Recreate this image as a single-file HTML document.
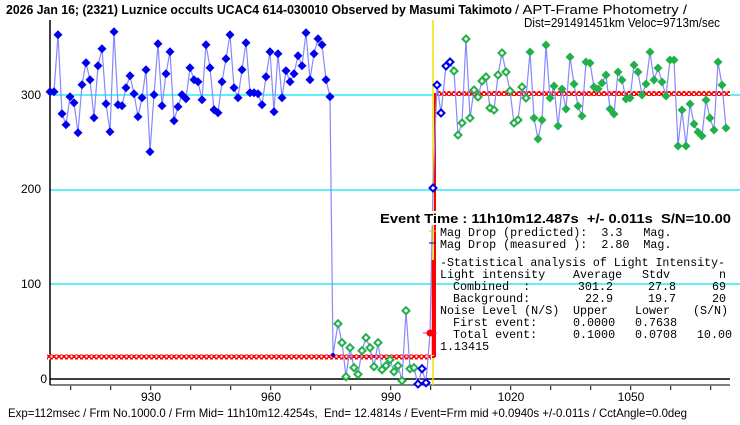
<!DOCTYPE html>
<html><head><meta charset="utf-8"><style>
html,body{margin:0;padding:0;background:#fff;width:740px;height:425px;overflow:hidden}
svg{display:block}
text{white-space:pre}
.m{font-family:"Liberation Mono",monospace;font-size:11.7px;fill:#000}
.s{font-family:"Liberation Sans",sans-serif;font-size:12px;fill:#000}
</style></head><body>
<svg width="740" height="425" xmlns="http://www.w3.org/2000/svg" xml:space="preserve">
<defs>
<pattern id="chk" width="5" height="5" patternUnits="userSpaceOnUse"><rect width="5" height="5" fill="#f00"/><rect x="0.5" y="0.5" width="2" height="2" fill="#fff"/><rect x="3" y="3" width="2" height="2" fill="#fff"/></pattern>
<path id="bd" d="M0,-4.5 L4.5,0 L0,4.5 L-4.5,0Z" fill="#0000ee"/>
<path id="gd" d="M0,-4.5 L4.5,0 L0,4.5 L-4.5,0Z" fill="#22b04a"/>
<path id="go" d="M0,-3.5 L3.5,0 L0,3.5 L-3.5,0Z" fill="#fff" stroke="#22b04a" stroke-width="2"/>
<path id="bo" d="M0,-3.5 L3.5,0 L0,3.5 L-3.5,0Z" fill="#fff" stroke="#0000ee" stroke-width="2"/>
</defs>
<text x="6" y="14" style="font-family:'Liberation Sans',sans-serif;font-size:13px;font-weight:bold" textLength="506" lengthAdjust="spacingAndGlyphs">2026 Jan 16; (2321) Luznice occults UCAC4 614-030010 Observed by Masumi Takimoto</text>
<text x="515" y="14" class="s" style="font-size:13px" textLength="172" lengthAdjust="spacingAndGlyphs">/ APT-Frame Photometry /</text>
<text x="524" y="27" class="s" style="font-size:13px" textLength="196" lengthAdjust="spacingAndGlyphs">Dist=291491451km Veloc=9713m/sec</text>
<line x1="50" y1="95" x2="740" y2="95" stroke="#00e8f0" stroke-width="1.2"/>
<line x1="50" y1="190" x2="740" y2="190" stroke="#00e8f0" stroke-width="1.2"/>
<line x1="50" y1="284" x2="740" y2="284" stroke="#00e8f0" stroke-width="1.2"/>
<line x1="50" y1="379" x2="730" y2="379" stroke="#000" stroke-width="1.5"/>
<line x1="50" y1="20" x2="50" y2="385" stroke="#000" stroke-width="1.5"/>
<line x1="50" y1="385" x2="730" y2="385" stroke="#000" stroke-width="1"/>
<g stroke="#000">
<line x1="70.7" y1="386" x2="70.7" y2="390"/><line x1="110.7" y1="386" x2="110.7" y2="390"/><line x1="150.7" y1="386" x2="150.7" y2="390"/><line x1="190.7" y1="386" x2="190.7" y2="390"/><line x1="230.7" y1="386" x2="230.7" y2="390"/><line x1="270.7" y1="386" x2="270.7" y2="390"/><line x1="310.7" y1="386" x2="310.7" y2="390"/><line x1="350.7" y1="386" x2="350.7" y2="390"/><line x1="390.7" y1="386" x2="390.7" y2="390"/><line x1="430.7" y1="386" x2="430.7" y2="390"/><line x1="470.7" y1="386" x2="470.7" y2="390"/><line x1="510.7" y1="386" x2="510.7" y2="390"/><line x1="550.7" y1="386" x2="550.7" y2="390"/><line x1="590.7" y1="386" x2="590.7" y2="390"/><line x1="630.7" y1="386" x2="630.7" y2="390"/><line x1="670.7" y1="386" x2="670.7" y2="390"/><line x1="710.7" y1="386" x2="710.7" y2="390"/>
</g>
<g class="s" text-anchor="middle"><text x="151" y="401">930</text><text x="271" y="401">960</text><text x="391" y="401">990</text><text x="511" y="401">1020</text><text x="631" y="401">1050</text></g>
<g class="s" text-anchor="end"><text x="47" y="383">0</text><text x="41" y="288">100</text><text x="41" y="193">200</text><text x="41" y="99">300</text></g>
<rect x="47" y="354.5" width="384" height="5" fill="url(#chk)"/>
<rect x="437" y="91" width="293" height="5" fill="url(#chk)"/>
<line x1="433" y1="20" x2="433" y2="385" stroke="#f0e000" stroke-width="1.5"/>
<line x1="435" y1="93" x2="435" y2="357" stroke="#f00" stroke-width="2"/>
<line x1="432" y1="357" x2="435" y2="357" stroke="#f00" stroke-width="2"/>
<polyline fill="none" stroke="#8888ff" stroke-width="1.2" points="50,91.7 54,91.7 58,34.7 62,113.7 66,124.7 70,96.7 74,102.7 78,132.7 82,84.7 86,62.7 90,79.7 94,117.7 98,65.7 102,48.7 106,103.7 110,131.7 114,31.7 118,104.7 122,105.7 126,87.7 130,75.7 134,93.7 138,116.7 142,97.7 146,69.7 150,151.7 154,94.7 158,43.7 162,105.7 166,73.7 170,51.7 174,120.7 178,106.7 182,94.7 186,98.7 190,67.7 194,79.7 198,81.7 202,99.7 206,44.7 210,67.7 214,109.7 218,112.7 222,81.7 226,58.7 230,34.7 234,87.7 238,97.7 242,69.7 246,42.7 250,92.7 254,92.7 258,93.7 262,104.7 266,76.7 270,51.7 274,111.7 278,53.7 282,97.7 286,70.7 290,81.7 294,73.7 298,55.7 302,65.7 306,32.7 310,79.7 314,53.7 318,38.7 322,44.7 326,79.7 330,96.7 333,355 338,323.7 342,342.7 346,376.7 350,347.7 354,367.7 358,374.3 362,350.7 366,337.7 370,347.7 374,366.7 378,342.7 382,369.7 386,365.7 390,359.7 394,371.7 398,365.7 402,380.7 406,310.7 410,368.7 414,367.7 418,384.7 422,368.7 426,382.7 430,333 433,188 437,85 441,113 446,66 450,62 454,71 458,135 462,123 466,39 470,118 474,90 478,97 482,81 486,77 490,108 494,110 498,75 502,53 506,72 510,91 514,123 518,120 522,87 526,98 530,52 534,118 538,139 542,120 546,45 550,98 554,86 558,126 562,89 566,109 570,57 574,84 578,106 582,116 586,62 590,63 594,87 598,89 602,83 606,75 610,109 614,114 618,72 622,80 626,99 630,98 634,65 638,72 642,95 646,84 650,52 654,80 658,68 662,82 666,96 670,60 674,60 678,146 682,110 686,146 690,104 694,124 698,132 702,136 706,100 710,118 714,130 718,62 722,85 726,128"/>
<g>
<use href="#bd" x="50" y="91.7"/><use href="#bd" x="54" y="91.7"/><use href="#bd" x="58" y="34.7"/><use href="#bd" x="62" y="113.7"/><use href="#bd" x="66" y="124.7"/><use href="#bd" x="70" y="96.7"/><use href="#bd" x="74" y="102.7"/><use href="#bd" x="78" y="132.7"/><use href="#bd" x="82" y="84.7"/><use href="#bd" x="86" y="62.7"/><use href="#bd" x="90" y="79.7"/><use href="#bd" x="94" y="117.7"/><use href="#bd" x="98" y="65.7"/><use href="#bd" x="102" y="48.7"/><use href="#bd" x="106" y="103.7"/><use href="#bd" x="110" y="131.7"/><use href="#bd" x="114" y="31.7"/><use href="#bd" x="118" y="104.7"/><use href="#bd" x="122" y="105.7"/><use href="#bd" x="126" y="87.7"/><use href="#bd" x="130" y="75.7"/><use href="#bd" x="134" y="93.7"/><use href="#bd" x="138" y="116.7"/><use href="#bd" x="142" y="97.7"/><use href="#bd" x="146" y="69.7"/><use href="#bd" x="150" y="151.7"/><use href="#bd" x="154" y="94.7"/><use href="#bd" x="158" y="43.7"/><use href="#bd" x="162" y="105.7"/><use href="#bd" x="166" y="73.7"/><use href="#bd" x="170" y="51.7"/><use href="#bd" x="174" y="120.7"/><use href="#bd" x="178" y="106.7"/><use href="#bd" x="182" y="94.7"/><use href="#bd" x="186" y="98.7"/><use href="#bd" x="190" y="67.7"/><use href="#bd" x="194" y="79.7"/><use href="#bd" x="198" y="81.7"/><use href="#bd" x="202" y="99.7"/><use href="#bd" x="206" y="44.7"/><use href="#bd" x="210" y="67.7"/><use href="#bd" x="214" y="109.7"/><use href="#bd" x="218" y="112.7"/><use href="#bd" x="222" y="81.7"/><use href="#bd" x="226" y="58.7"/><use href="#bd" x="230" y="34.7"/><use href="#bd" x="234" y="87.7"/><use href="#bd" x="238" y="97.7"/><use href="#bd" x="242" y="69.7"/><use href="#bd" x="246" y="42.7"/><use href="#bd" x="250" y="92.7"/><use href="#bd" x="254" y="92.7"/><use href="#bd" x="258" y="93.7"/><use href="#bd" x="262" y="104.7"/><use href="#bd" x="266" y="76.7"/><use href="#bd" x="270" y="51.7"/><use href="#bd" x="274" y="111.7"/><use href="#bd" x="278" y="53.7"/><use href="#bd" x="282" y="97.7"/><use href="#bd" x="286" y="70.7"/><use href="#bd" x="290" y="81.7"/><use href="#bd" x="294" y="73.7"/><use href="#bd" x="298" y="55.7"/><use href="#bd" x="302" y="65.7"/><use href="#bd" x="306" y="32.7"/><use href="#bd" x="310" y="79.7"/><use href="#bd" x="314" y="53.7"/><use href="#bd" x="318" y="38.7"/><use href="#bd" x="322" y="44.7"/><use href="#bd" x="326" y="79.7"/><use href="#bd" x="330" y="96.7"/>
</g>
<circle cx="333" cy="355" r="2" fill="#0000ee"/>
<g>
<use href="#go" x="338" y="323.7"/><use href="#go" x="342" y="342.7"/><use href="#go" x="346" y="376.7"/><use href="#go" x="350" y="347.7"/><use href="#go" x="354" y="367.7"/><use href="#go" x="358" y="374.3"/><use href="#go" x="362" y="350.7"/><use href="#go" x="366" y="337.7"/><use href="#go" x="370" y="347.7"/><use href="#go" x="374" y="366.7"/><use href="#go" x="378" y="342.7"/><use href="#go" x="382" y="369.7"/><use href="#go" x="386" y="365.7"/><use href="#go" x="390" y="359.7"/><use href="#go" x="394" y="371.7"/><use href="#go" x="398" y="365.7"/><use href="#go" x="402" y="380.7"/><use href="#go" x="406" y="310.7"/><use href="#go" x="410" y="368.7"/><use href="#go" x="414" y="367.7"/>
<use href="#bo" x="418" y="384"/><use href="#bo" x="422" y="368.7"/><use href="#bo" x="426" y="382.7"/>
<use href="#bo" x="433" y="188"/><use href="#bo" x="437" y="85"/><use href="#bo" x="441" y="113"/><use href="#bo" x="446" y="66"/><use href="#bo" x="450" y="62"/>
<use href="#go" x="454" y="71"/><use href="#go" x="458" y="135"/><use href="#go" x="462" y="123"/><use href="#go" x="466" y="39"/><use href="#go" x="470" y="118"/><use href="#go" x="474" y="90"/><use href="#go" x="478" y="97"/><use href="#go" x="482" y="81"/><use href="#go" x="486" y="77"/><use href="#go" x="490" y="108"/><use href="#go" x="494" y="110"/><use href="#go" x="498" y="75"/><use href="#go" x="502" y="53"/><use href="#go" x="506" y="72"/><use href="#go" x="510" y="91"/><use href="#go" x="514" y="123"/><use href="#go" x="518" y="120"/><use href="#go" x="522" y="87"/><use href="#go" x="526" y="98"/>
<use href="#gd" x="530" y="52"/><use href="#gd" x="534" y="118"/><use href="#gd" x="538" y="139"/><use href="#gd" x="542" y="120"/><use href="#gd" x="546" y="45"/><use href="#gd" x="550" y="98"/><use href="#gd" x="554" y="86"/><use href="#gd" x="558" y="126"/><use href="#gd" x="562" y="89"/><use href="#gd" x="566" y="109"/><use href="#gd" x="570" y="57"/><use href="#gd" x="574" y="84"/><use href="#gd" x="578" y="106"/><use href="#gd" x="582" y="116"/><use href="#gd" x="586" y="62"/><use href="#gd" x="590" y="63"/><use href="#gd" x="594" y="87"/><use href="#gd" x="598" y="89"/><use href="#gd" x="602" y="83"/><use href="#gd" x="606" y="75"/><use href="#gd" x="610" y="109"/><use href="#gd" x="614" y="114"/><use href="#gd" x="618" y="72"/><use href="#gd" x="622" y="80"/><use href="#gd" x="626" y="99"/><use href="#gd" x="630" y="98"/><use href="#gd" x="634" y="65"/><use href="#gd" x="638" y="72"/><use href="#gd" x="642" y="95"/><use href="#gd" x="646" y="84"/><use href="#gd" x="650" y="52"/><use href="#gd" x="654" y="80"/><use href="#gd" x="658" y="68"/><use href="#gd" x="662" y="82"/><use href="#gd" x="666" y="96"/><use href="#gd" x="670" y="60"/><use href="#gd" x="674" y="60"/><use href="#gd" x="678" y="146"/><use href="#gd" x="682" y="110"/><use href="#gd" x="686" y="146"/><use href="#gd" x="690" y="104"/><use href="#gd" x="694" y="124"/><use href="#gd" x="698" y="132"/><use href="#gd" x="702" y="136"/><use href="#gd" x="706" y="100"/><use href="#gd" x="710" y="118"/><use href="#gd" x="714" y="130"/><use href="#gd" x="718" y="62"/><use href="#gd" x="722" y="85"/><use href="#gd" x="726" y="128"/>
</g>
<line x1="423" y1="333" x2="437" y2="333" stroke="#ff00ff" stroke-width="1"/>
<circle cx="430" cy="333" r="3.5" fill="#f00"/>
<line x1="433" y1="260" x2="433" y2="355" stroke="#f00" stroke-width="2.5"/>
<line x1="429" y1="231" x2="436" y2="231" stroke="#f0c000"/>
<line x1="429" y1="243" x2="436" y2="243" stroke="#00a"/>
<rect x="378" y="211" width="355" height="14" fill="#fff"/>
<text x="380" y="223" style="font-family:'Liberation Sans',sans-serif;font-size:13px;font-weight:bold" textLength="351" lengthAdjust="spacingAndGlyphs">Event Time : 11h10m12.487s  +/- 0.011s  S/N=10.00</text>
<g class="m">
<text x="440" y="236">Mag Drop (predicted):  3.3   Mag.</text>
<text x="440" y="248">Mag Drop (measured ):  2.80  Mag.</text>
<text x="440" y="266" textLength="285" lengthAdjust="spacingAndGlyphs">-Statistical analysis of Light Intensity-</text>
<text x="440" y="278">Light intensity</text><text x="573" y="278">Average</text><text x="642" y="278">Stdv</text><text x="726" y="278" text-anchor="end">n</text>
<text x="453" y="290">Combined  :</text><text x="613" y="290" text-anchor="end">301.2</text><text x="676" y="290" text-anchor="end">27.8</text><text x="726" y="290" text-anchor="end">69</text>
<text x="453" y="302">Background:</text><text x="613" y="302" text-anchor="end">22.9</text><text x="676" y="302" text-anchor="end">19.7</text><text x="726" y="302" text-anchor="end">20</text>
<text x="440" y="314">Noise Level (N/S)</text><text x="573" y="314">Upper</text><text x="635" y="314">Lower</text><text x="693" y="314">(S/N)</text>
<text x="453" y="326">First event:</text><text x="573" y="326">0.0000</text><text x="635" y="326">0.7638</text>
<text x="453" y="338">Total event:</text><text x="573" y="338">0.1000</text><text x="635" y="338">0.0708</text><text x="732" y="338" text-anchor="end">10.00</text>
<text x="440" y="350">1.13415</text>
</g>
<text x="8" y="417" class="s" textLength="679" lengthAdjust="spacingAndGlyphs">Exp=112msec / Frm No.1000.0 / Frm Mid= 11h10m12.4254s,  End= 12.4814s / Event=Frm mid +0.0940s +/-0.011s / CctAngle=0.0deg</text>
</svg>
</body></html>
